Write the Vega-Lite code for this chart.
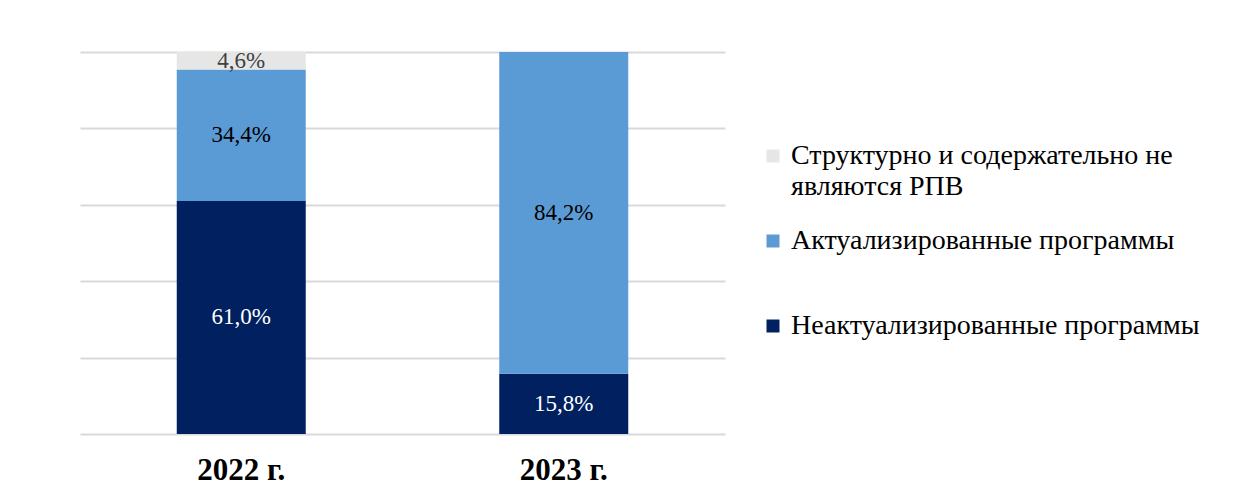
{
  "$schema": "https://vega.github.io/schema/vega-lite/v6.json",
  "width": 645,
  "height": 382,
  "padding": {"left": 80, "top": 49, "right": 5, "bottom": 5},
  "background": "white",
  "config": {
    "locale": {"number": {"decimal": ",", "thousands": " ", "grouping": [3], "currency": ["", " ₽"]}},
    "view": {"stroke": null},
    "font": "Liberation Serif"
  },
  "data": {
    "values": [
      {"year": "2022 г.", "category": "Неактуализированные программы", "rank": 1, "value": 0.61},
      {"year": "2022 г.", "category": "Актуализированные программы", "rank": 2, "value": 0.344},
      {"year": "2022 г.", "category": "Структурно и содержательно не являются РПВ", "rank": 3, "value": 0.046},
      {"year": "2023 г.", "category": "Неактуализированные программы", "rank": 1, "value": 0.158},
      {"year": "2023 г.", "category": "Актуализированные программы", "rank": 2, "value": 0.842}
    ]
  },
  "encoding": {
    "x": {
      "field": "year", "type": "nominal", "title": null,
      "scale": {"paddingInner": 0, "paddingOuter": 0},
      "axis": {"labelAngle": 0, "labelFont": "Liberation Serif", "labelFontSize": 31, "labelFontWeight": "bold", "labelColor": "#000000", "ticks": false, "domain": false, "labelPadding": 21}
    },
    "y": {
      "field": "value", "type": "quantitative", "stack": "zero", "title": null,
      "scale": {"domain": [0, 1], "nice": false},
      "axis": {"labels": false, "ticks": false, "domain": false, "values": [0, 0.2, 0.4, 0.6, 0.8, 1], "gridColor": "#d9d9d9", "gridWidth": 2}
    },
    "order": {"field": "rank", "type": "quantitative", "sort": "ascending"}
  },
  "layer": [
    {
      "mark": {"type": "bar", "width": {"band": 0.4}},
      "encoding": {
        "color": {
          "field": "category", "type": "nominal",
          "sort": ["Структурно и содержательно не являются РПВ", "Актуализированные программы", "Неактуализированные программы"],
          "scale": {"range": ["#e7e6e6", "#5b9bd5", "#002060"]},
          "legend": {
            "title": null, "orient": "none", "legendX": 679, "legendY": 90,
            "symbolType": "square", "symbolSize": 169, "symbolStrokeWidth": 0,
            "labelFont": "Liberation Serif", "labelFontSize": 28, "labelColor": "#000000", "labelLimit": 600,
            "labelOffset": 4, "rowPadding": 26, "gridAlign": "all",
            "encode": {"labels": {"update": {"lineHeight": {"value": 31}}}},
            "labelExpr": "datum.label == 'Структурно и содержательно не являются РПВ' ? ['Структурно и содержательно не', 'являются РПВ'] : datum.label"
          }
        }
      }
    },
    {
      "mark": {"type": "text", "font": "Liberation Serif", "fontSize": 23, "baseline": "middle"},
      "encoding": {
        "y": {"field": "value", "type": "quantitative", "stack": "zero", "bandPosition": 0.5},
        "text": {"field": "value", "type": "quantitative", "format": ".1%"},
        "color": {
          "field": "category", "type": "nominal",
          "sort": ["Структурно и содержательно не являются РПВ", "Актуализированные программы", "Неактуализированные программы"],
          "scale": {"range": ["#404040", "#000000", "#ffffff"]},
          "legend": null
        }
      }
    }
  ],
  "resolve": {"scale": {"color": "independent"}}
}
